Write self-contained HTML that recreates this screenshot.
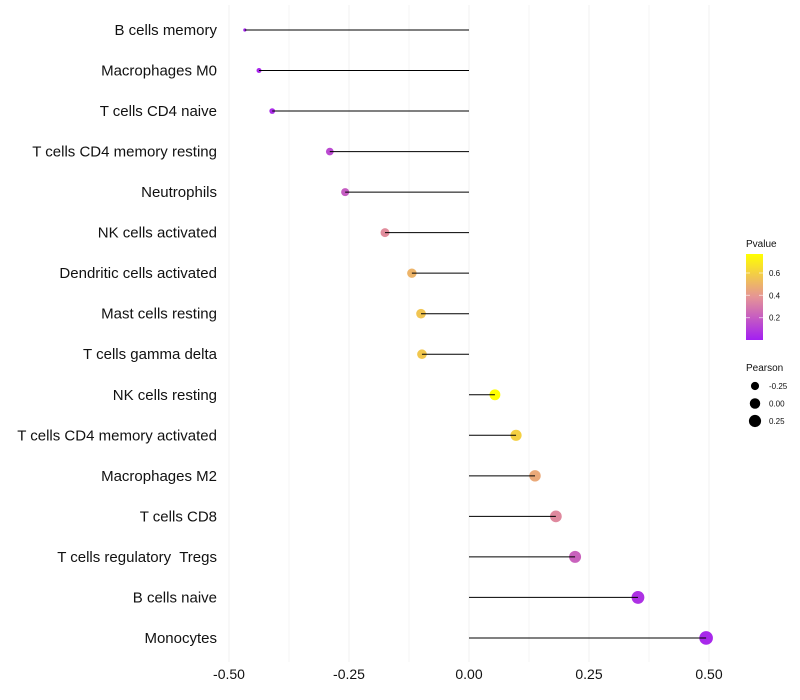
<!DOCTYPE html>
<html><head><meta charset="utf-8"><style>
body{margin:0;background:#fff;font-family:"Liberation Sans",sans-serif;}
svg{display:block}
</style></head><body>
<svg id="chart" width="800" height="700"></svg>
<script>
const categories=["B cells memory","Macrophages M0","T cells CD4 naive","T cells CD4 memory resting","Neutrophils","NK cells activated","Dendritic cells activated","Mast cells resting","T cells gamma delta","NK cells resting","T cells CD4 memory activated","Macrophages M2","T cells CD8","T cells regulatory  Tregs","B cells naive","Monocytes"];
const pearson=[-0.467,-0.4375,-0.41,-0.29,-0.258,-0.175,-0.119,-0.1,-0.098,0.054,0.098,0.1375,0.181,0.221,0.352,0.494];
const pvalue=[0.01,0.03,0.04,0.14,0.2,0.36,0.5,0.56,0.57,0.77,0.6,0.46,0.35,0.22,0.06,0.03];
const xTicks=[-0.5,-0.25,0,0.25,0.5];
const xTickLabels=["-0.50","-0.25","0.00","0.25","0.50"];
const pTicks=[0.2,0.4,0.6];
const sizeTicks=[-0.25,0,0.25];
const sizeTickLabels=["-0.25","0.00","0.25"];

const NS="http://www.w3.org/2000/svg";
const svg=document.getElementById('chart');
function mk(t,a,p){const e=document.createElementNS(NS,t);for(const k in a)e.setAttribute(k,a[k]);(p||svg).appendChild(e);return e;}
const x=v=>469+v*480;
const y=i=>30+i*40.53;
const r=v=>1.6+5.2*Math.sqrt(Math.max(0,(v+0.467)/0.961));
const pcol=p=>{const t=Math.max(0,Math.min(1,p/0.77));
 const s=[[0,[163,31,242]],[0.5,[229,148,150]],[1,[255,255,0]]];
 let a=s[0],b=s[1];if(t>0.5){a=s[1];b=s[2];}
 const u=(t-a[0])/(b[0]-a[0]);
 return 'rgb('+a[1].map((c,k)=>Math.round(c+(b[1][k]-c)*u)).join(',')+')';};
const py=p=>340-(p/0.77)*86;

[-0.5,-0.375,-0.25,-0.125,0,0.125,0.25,0.375,0.5].forEach(v=>{
 const g=mk('line',{x1:x(v),x2:x(v),y1:5,y2:662,stroke:'#f0f0f0','stroke-width':xTicks.includes(v)?1:0.6});
 
 
});
xTicks.forEach((v,i)=>{
 const t=mk('text',{x:x(v),y:679,'text-anchor':'middle','font-size':14,fill:'#111'});
 t.textContent=xTickLabels[i];
 
 
});
categories.forEach((c,i)=>{
 const t=mk('text',{x:217,y:y(i)+5,'text-anchor':'end','font-size':15,fill:'#111'});
 t.setAttribute('style','white-space:pre');
 t.textContent=c;
 
 
 const d=mk('circle',{cx:x(pearson[i]),cy:y(i),r:r(pearson[i]),fill:pcol(pvalue[i])});
 
 
 const l=mk('line',{x1:x(0),x2:x(pearson[i]),y1:y(i),y2:y(i),stroke:'#000','stroke-width':1});
 
 
});
const lt=mk('text',{x:746,y:247,'font-size':10,fill:'#111'});lt.textContent='Pvalue';


const defs=mk('defs',{});
const gr=mk('linearGradient',{id:'pg',x1:0,y1:1,x2:0,y2:0},defs);
for(let k=0;k<=10;k++)mk('stop',{offset:k/10,'stop-color':pcol(0.77*k/10)},gr);
const cb=mk('rect',{x:746,y:254,width:17,height:86,fill:'url(#pg)'});


pTicks.forEach(p=>{
 mk('line',{x1:746,x2:750,y1:py(p),y2:py(p),stroke:'#fff','stroke-opacity':0.6});
 mk('line',{x1:759,x2:763,y1:py(p),y2:py(p),stroke:'#fff','stroke-opacity':0.6});
 const t=mk('text',{x:769,y:py(p)+3,'font-size':8,fill:'#111'});t.textContent=p.toFixed(1);
 
 
});
const st=mk('text',{x:746,y:371,'font-size':10,fill:'#111'});st.textContent='Pearson';


sizeTicks.forEach((v,i)=>{
 const cy=386+i*17.5;
 const c=mk('circle',{cx:755,cy:cy,r:r(v),fill:'#000'});
 
 
 const t=mk('text',{x:769,y:cy+3,'font-size':8,fill:'#111'});t.textContent=sizeTickLabels[i];
 
 
});
</script>
</body></html>
